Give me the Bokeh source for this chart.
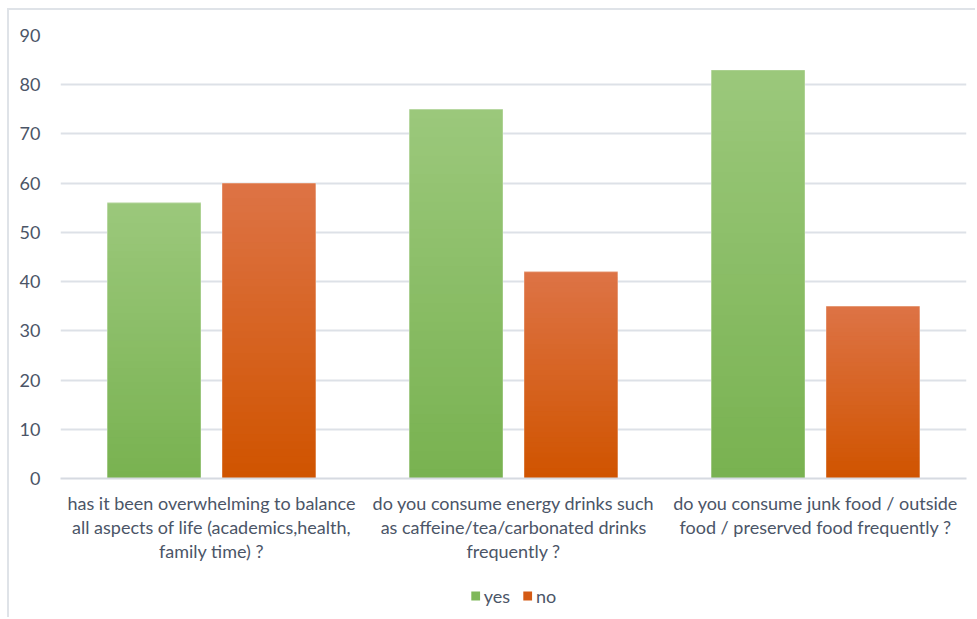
import numpy as np
from bokeh.plotting import figure
from bokeh.layouts import column
from bokeh.models import Range1d, FixedTicker, Legend, LegendItem
from bokeh.embed import file_html
from bokeh.resources import INLINE

categories = [
    "has it been overwhelming to balance\nall aspects of life (academics,health,\nfamily time) ?",
    "do you consume energy drinks such\nas caffeine/tea/carbonated drinks\nfrequently ?",
    "do you consume junk food / outside\nfood / preserved food frequently ?",
]
series_names = ["yes", "no"]
yes_values = [56, 75, 83]
no_values = [60, 42, 35]
y_ticks = [0, 10, 20, 30, 40, 50, 60, 70, 80, 90]

TEXT = "#4b5567"
GRID = "#dde1e7"
BORDER = "2px solid #dfe3e8"
FONT = "Lato"

p = figure(width=968, height=566, output_backend="svg", toolbar_location=None,
           x_range=Range1d(0, 3), y_range=Range1d(0, 90),
           min_border_left=51, min_border_right=11, min_border_top=25, min_border_bottom=98)
p.styles = {"margin-left": "7px", "margin-top": "8px",
            "border-left": BORDER, "border-top": BORDER}
p.outline_line_color = None
p.background_fill_color = "white"
p.border_fill_color = "white"

def hex2rgb(h):
    h = h.lstrip("#")
    return np.array([int(h[i:i + 2], 16) for i in (0, 2, 4)], dtype=float)

def rgb2hex(c):
    return "#%02x%02x%02x" % tuple(int(round(v)) for v in c)

bar_w = 0.31
offsets = [-0.19, 0.19]
grad = [("#9bc87b", "#79b251"), ("#dd7345", "#d05400")]
solid = ["#7fb85a", "#d45a14"]
n_steps = 40
all_values = [yes_values, no_values]

for s, vals in enumerate(all_values):
    xs = np.arange(len(categories)) + 0.5 + offsets[s]
    top_c, bot_c = hex2rgb(grad[s][0]), hex2rgb(grad[s][1])
    p.vbar(x=xs, top=vals, width=bar_w, fill_color=solid[s], line_color=None)
    for k in range(n_steps):
        frac = 1 - k / n_steps
        col = rgb2hex(top_c + (bot_c - top_c) * (k / (n_steps - 1)))
        p.vbar(x=xs, top=[v * frac for v in vals], width=bar_w, fill_color=col, line_color=None)
    p.vbar(x=xs, top=vals, width=bar_w, fill_color=None,
           line_color="white", line_alpha=0.35, line_width=1)

p.xaxis.ticker = FixedTicker(ticks=[i + 0.5 for i in range(len(categories))])
p.xaxis.major_label_overrides = {i + 0.5: c for i, c in enumerate(categories)}
p.yaxis.ticker = FixedTicker(ticks=y_ticks)

for ax in (p.xaxis[0], p.yaxis[0]):
    ax.major_tick_line_color = None
    ax.minor_tick_line_color = None
    ax.major_label_text_font = FONT
    ax.major_label_text_font_size = "18px"
    ax.major_label_text_color = TEXT
p.xaxis.major_label_text_line_height = 1.1
p.yaxis.axis_line_color = None
p.yaxis.major_label_standoff = 14
p.xaxis.axis_line_color = "#d6dae1"
p.xaxis.axis_line_width = 2
p.xaxis.major_label_standoff = 7

p.xgrid.grid_line_color = None
p.ygrid.grid_line_color = GRID
p.ygrid.grid_line_width = 2

# legend strip below the chart
pl = figure(width=968, height=43, output_backend="svg", toolbar_location=None,
            x_range=Range1d(0, 3), y_range=Range1d(0, 90),
            min_border_left=20, min_border_right=0, min_border_top=0, min_border_bottom=0)
pl.styles = {"margin-left": "7px", "border-left": BORDER}
pl.axis.visible = False
pl.grid.visible = False
pl.outline_line_color = None
pl.border_fill_color = "white"
# zero-width bars: invisible in the strip, but give the legend its swatches
leg_r = [pl.vbar(x=np.arange(len(categories)) + 0.5, top=all_values[i], width=0,
                 fill_color=solid[i], line_color=None) for i in range(2)]
legend = Legend(items=[LegendItem(label=series_names[i], renderers=[leg_r[i]]) for i in range(2)],
                orientation="horizontal", location="center",
                label_text_font=FONT, label_text_font_size="18px", label_text_color=TEXT,
                glyph_width=11, glyph_height=11, spacing=12, label_standoff=3,
                border_line_color=None, background_fill_alpha=0, margin=0, padding=0)
pl.add_layout(legend, "center")

layout = column(p, pl, spacing=0)
html = file_html(layout, INLINE)
open("out.html", "w").write(html)
